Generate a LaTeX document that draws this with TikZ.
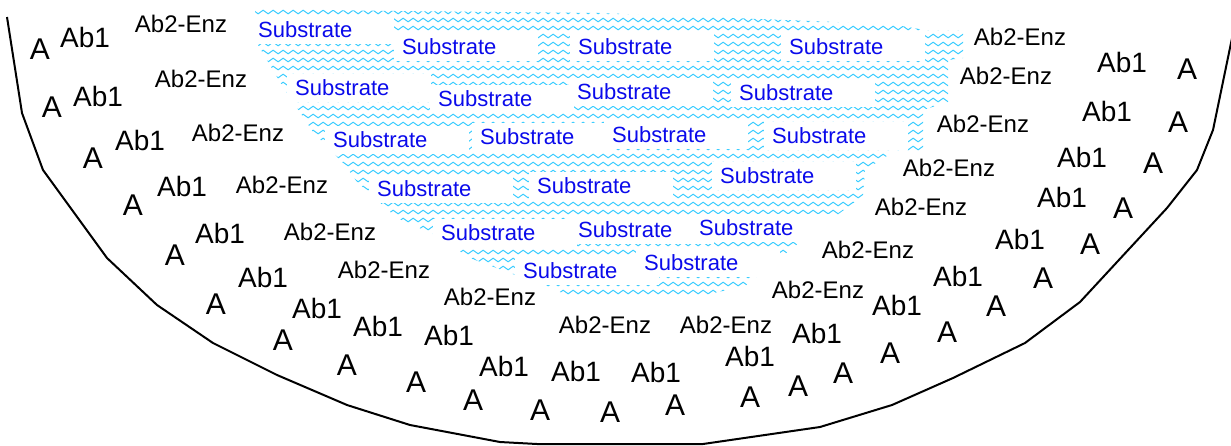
\documentclass[tikz,border=0pt]{standalone}
\usepackage{fontspec}
\setmainfont{Liberation Sans}
\usepackage{xcolor}
\usetikzlibrary{decorations.pathmorphing}

\definecolor{wavecyan}{RGB}{60,205,255}
\definecolor{subblue}{RGB}{10,10,235}

\tikzset{
  antigen/.style={font=\fontsize{30}{32}\selectfont, inner sep=0pt},
  abone/.style={font=\fontsize{28}{30}\selectfont, inner sep=0pt},
  abtwo/.style={font=\fontsize{24}{26}\selectfont, inner sep=0pt},
  substrate/.style={font=\fontsize{22}{24}\selectfont, text=subblue, fill=white,
    anchor=west, inner xsep=8pt, inner ysep=0pt, text width=128pt, align=left,
    minimum height=28pt},
  wave/.style={wavecyan, line width=1pt, decorate,
    decoration={snake, segment length=10pt, amplitude=1.8pt}}
}

\begin{document}
\begin{tikzpicture}[x=1pt,y=-1pt]
    \useasboundingbox (0,0) rectangle (1231,445);

    % Well
    \draw[line width=2pt] (7,17) -- (22,113) -- (43,170) -- (107,258) -- (157,305)
      -- (213,343) -- (277,375) -- (347,405) -- (410,425) -- (500,442) -- (537,444)
      -- (703,444) -- (820,427) -- (892,405) -- (953,378) -- (1025,343) -- (1080,302)
      -- (1167,208) -- (1197,170) -- (1213,130) -- (1231,43) -- (1236,20);

    % Substrate solution
    \begin{scope}
      \clip (255,9) -- (395,11) -- (600,13) -- (890,24) -- (925,30) -- (963,30)
        -- (963,58) -- (948,60) -- (948,102) -- (923,110) -- (923,150) -- (893,152)
        -- (865,170) -- (863,196) -- (800,242) -- (745,286) -- (700,296) -- (570,296)
        -- (550,288) -- (470,258) -- (433,234) -- (397,218) -- (357,182) -- (345,165)
        -- (313,132) -- (293,102) -- (280,82) -- (258,45) -- cycle;
      \foreach \y in {12,20,...,297}
        \draw[wave] (250,\y) -- (970,\y);
    \end{scope}

    % Substrate
    \node[substrate] (s1) at (250,30) {Substrate};
    \node[substrate] (s2) at (394,47) {Substrate};
    \node[substrate] (s3) at (570,47) {Substrate};
    \node[substrate] (s4) at (781,47) {Substrate};
    \node[substrate] (s5) at (287,88) {Substrate};
    \node[substrate] (s6) at (430,99) {Substrate};
    \node[substrate] (s7) at (569,92) {Substrate};
    \node[substrate] (s8) at (731,93) {Substrate};
    \node[substrate] (s9) at (325,140) {Substrate};
    \node[substrate] (s10) at (472,137) {Substrate};
    \node[substrate] (s11) at (604,135) {Substrate};
    \node[substrate] (s12) at (764,136) {Substrate};
    \node[substrate] (s13) at (369,189) {Substrate};
    \node[substrate] (s14) at (529,186) {Substrate};
    \node[substrate] (s15) at (712,176) {Substrate};
    \node[substrate] (s16) at (433,233) {Substrate};
    \node[substrate] (s17) at (570,230) {Substrate};
    \node[substrate] (s18) at (691,228) {Substrate};
    \node[substrate] (s19) at (515,271) {Substrate};
    \node[substrate] (s20) at (636,263) {Substrate};

    % Ab2-Enz
    \node[abtwo] (e1) at (181,24) {Ab2-Enz};
    \node[abtwo] (e2) at (201,79) {Ab2-Enz};
    \node[abtwo] (e3) at (238,133) {Ab2-Enz};
    \node[abtwo] (e4) at (282,185) {Ab2-Enz};
    \node[abtwo] (e5) at (330,232) {Ab2-Enz};
    \node[abtwo] (e6) at (384,270) {Ab2-Enz};
    \node[abtwo] (e7) at (490,297) {Ab2-Enz};
    \node[abtwo] (e8) at (605,325) {Ab2-Enz};
    \node[abtwo] (e9) at (726,325) {Ab2-Enz};
    \node[abtwo] (e10) at (818,290) {Ab2-Enz};
    \node[abtwo] (e11) at (868,250) {Ab2-Enz};
    \node[abtwo] (e12) at (921,207) {Ab2-Enz};
    \node[abtwo] (e13) at (949,168) {Ab2-Enz};
    \node[abtwo] (e14) at (983,124) {Ab2-Enz};
    \node[abtwo] (e15) at (1006,76) {Ab2-Enz};
    \node[abtwo] (e16) at (1020,37) {Ab2-Enz};

    % Ab1
    \node[abone] (b1) at (85,37) {Ab1};
    \node[abone] (b2) at (98,96) {Ab1};
    \node[abone] (b3) at (140,140) {Ab1};
    \node[abone] (b4) at (182,186) {Ab1};
    \node[abone] (b5) at (220,233) {Ab1};
    \node[abone] (b6) at (263,277) {Ab1};
    \node[abone] (b7) at (317,308) {Ab1};
    \node[abone] (b8) at (378,326) {Ab1};
    \node[abone] (b9) at (449,335) {Ab1};
    \node[abone] (b10) at (504,366) {Ab1};
    \node[abone] (b11) at (576,371) {Ab1};
    \node[abone] (b12) at (656,372) {Ab1};
    \node[abone] (b13) at (750,356) {Ab1};
    \node[abone] (b14) at (817,333) {Ab1};
    \node[abone] (b15) at (897,305) {Ab1};
    \node[abone] (b16) at (958,276) {Ab1};
    \node[abone] (b17) at (1020,239) {Ab1};
    \node[abone] (b18) at (1062,197) {Ab1};
    \node[abone] (b19) at (1082,157) {Ab1};
    \node[abone] (b20) at (1107,111) {Ab1};
    \node[abone] (b21) at (1122,62) {Ab1};

    % A
    \node[antigen] (a1) at (40,49) {A};
    \node[antigen] (a2) at (52,107) {A};
    \node[antigen] (a3) at (93,158) {A};
    \node[antigen] (a4) at (133,205) {A};
    \node[antigen] (a5) at (175,255) {A};
    \node[antigen] (a6) at (216,304) {A};
    \node[antigen] (a7) at (283,340) {A};
    \node[antigen] (a8) at (347,365) {A};
    \node[antigen] (a9) at (416,382) {A};
    \node[antigen] (a10) at (473,400) {A};
    \node[antigen] (a11) at (540,410) {A};
    \node[antigen] (a12) at (610,412) {A};
    \node[antigen] (a13) at (675,405) {A};
    \node[antigen] (a14) at (750,397) {A};
    \node[antigen] (a15) at (798,386) {A};
    \node[antigen] (a16) at (843,373) {A};
    \node[antigen] (a17) at (890,353) {A};
    \node[antigen] (a18) at (947,332) {A};
    \node[antigen] (a19) at (996,306) {A};
    \node[antigen] (a20) at (1043,278) {A};
    \node[antigen] (a21) at (1090,244) {A};
    \node[antigen] (a22) at (1123,208) {A};
    \node[antigen] (a23) at (1153,163) {A};
    \node[antigen] (a24) at (1178,122) {A};
    \node[antigen] (a25) at (1187,69) {A};
\end{tikzpicture}
\end{document}
